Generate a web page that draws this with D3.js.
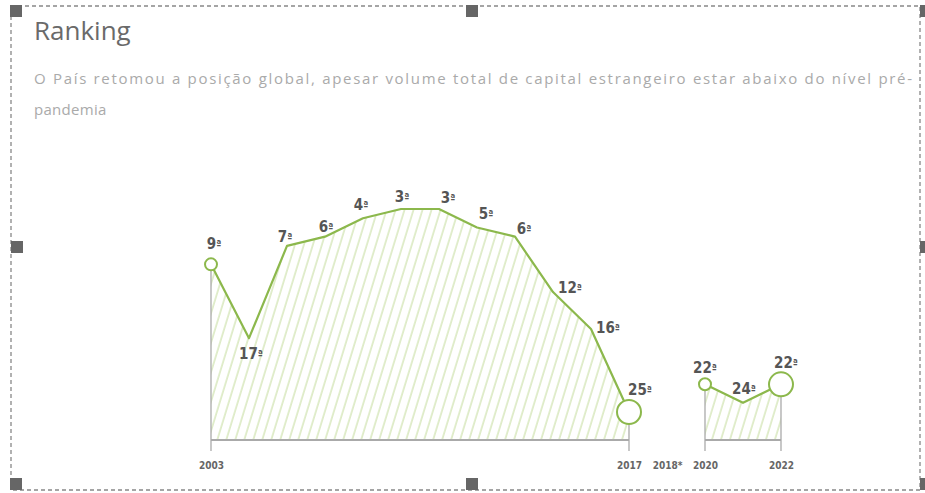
<!DOCTYPE html>
<html>
<head>
<meta charset="utf-8">
<script src="https://cdn.jsdelivr.net/npm/d3@7"></script>
<style>
  body { margin: 0; background: #fff; }
  svg { display: block; }
</style>
</head>
<body>
<script>
// dados
var mainRanks = [9, 17, 7, 6, 4, 3, 3, 5, 6, 12, 16, 25];   // 2003 ... 2017
var recentRanks = [22, 24, 22];                              // 2020 ... 2022
var tickLabels = ["2003", "2017", "2018*", "2020", "2022"];
var tickSlots = [0, 11, 12, 13, 15];
var mainSlots = d3.range(0, 12);
var recentSlots = [13, 14, 15];

var width = 925;
var height = 493;
var svg = d3.select("body").append("svg")
	.attr("width", width)
	.attr("height", height);

var x = d3.scaleLinear().domain([0, 15]).range([211, 781]);
var y = d3.scaleLinear().domain([3, 25]).range([209, 412]);
var baseY = 440;
var green = "#8cb84c";
var labelFont = "'DejaVu Sans Condensed', 'DejaVu Sans', sans-serif";

// hachura
var defs = svg.append("defs");
defs.append("pattern")
	.attr("id", "hatch")
	.attr("patternUnits", "userSpaceOnUse")
	.attr("width", 8.6)
	.attr("height", 10)
	.attr("patternTransform", "rotate(17)")
	.append("line")
	.attr("x1", 1).attr("y1", 0)
	.attr("x2", 1).attr("y2", 10)
	.attr("stroke", "#c9dfa4")
	.attr("stroke-width", 1.1);

// moldura de seleção
svg.append("rect")
	.attr("x", 11).attr("y", 6)
	.attr("width", 909).attr("height", 484)
	.attr("fill", "none")
	.attr("stroke", "#888")
	.attr("stroke-width", 1.3)
	.attr("stroke-dasharray", "4,3");

var handles = [[10, 5], [466, 5], [920, 5], [11, 241], [920, 241], [10, 478], [466, 478], [920, 478]];
svg.selectAll(".handle").data(handles).enter().append("rect")
	.attr("class", "handle")
	.attr("x", d => d[0]).attr("y", d => d[1])
	.attr("width", 12).attr("height", 12)
	.attr("fill", "#666");

// títulos
svg.append("text")
	.attr("x", 34).attr("y", 40)
	.attr("font-family", "'Open Sans', sans-serif")
	.attr("font-size", 26)
	.attr("fill", "#6a6a6a")
	.text("Ranking");

svg.append("text")
	.attr("x", 34).attr("y", 84)
	.attr("font-family", "'Open Sans', sans-serif")
	.attr("font-size", 15)
	.attr("fill", "#aaa")
	.attr("textLength", 878)
	.attr("lengthAdjust", "spacing")
	.text("O País retomou a posição global, apesar volume total de capital estrangeiro estar abaixo do nível pré-");

svg.append("text")
	.attr("x", 34).attr("y", 115)
	.attr("font-family", "'Open Sans', sans-serif")
	.attr("font-size", 15)
	.attr("fill", "#aaa")
	.attr("letter-spacing", 0.3)
	.text("pandemia");

// cada série é desenhada como um bloco
var series = [
	{ranks: mainRanks, slots: mainSlots},
	{ranks: recentRanks, slots: recentSlots}
];

// deslocamentos dos rótulos (dx, dy) em relação ao ponto
var labelOffsets = [
	[[3, -15], [2, 21], [-2, -4], [1, -5], [-2, -8], [1, -7], [9, -6], [9, -8], [9, -3], [17, 1], [17, 4], [11, -17]],
	[[0, -11], [1, -9], [5, -16]]
];

series.forEach(function(s, si) {
	var pts = s.ranks.map((r, i) => ({slot: s.slots[i], rank: r}));
	var first = pts[0], last = pts[pts.length - 1];
	var g = svg.append("g");

	var area = d3.area()
		.x(d => x(d.slot))
		.y0(baseY)
		.y1(d => y(d.rank));
	g.append("path")
		.datum(pts)
		.attr("d", area)
		.attr("fill", "url(#hatch)");

	// linhas cinzas
	g.append("line")
		.attr("x1", x(first.slot)).attr("x2", x(last.slot))
		.attr("y1", baseY).attr("y2", baseY)
		.attr("stroke", "#aaa").attr("stroke-width", 2);
	g.append("line")
		.attr("x1", x(first.slot)).attr("x2", x(first.slot))
		.attr("y1", y(first.rank) + 6).attr("y2", baseY + 11)
		.attr("stroke", "#aaa").attr("stroke-width", 1.3);
	g.append("line")
		.attr("x1", x(last.slot)).attr("x2", x(last.slot))
		.attr("y1", y(last.rank) + 12).attr("y2", baseY + 11)
		.attr("stroke", "#aaa").attr("stroke-width", 1.3);

	var line = d3.line().x(d => x(d.slot)).y(d => y(d.rank));
	g.append("path")
		.datum(pts)
		.attr("d", line)
		.attr("fill", "none")
		.attr("stroke", green)
		.attr("stroke-width", 2.2)
		.attr("stroke-linejoin", "round");

	// círculos no início e no fim
	[[first, 6], [last, 12]].forEach(function(c) {
		g.append("circle")
			.attr("cx", x(c[0].slot)).attr("cy", y(c[0].rank))
			.attr("r", c[1])
			.attr("fill", "#fff")
			.attr("stroke", green)
			.attr("stroke-width", 2);
	});

	var labels = g.selectAll(".lbl").data(pts).enter().append("text")
		.attr("class", "lbl")
		.attr("x", (d, i) => x(d.slot) + labelOffsets[si][i][0])
		.attr("y", (d, i) => y(d.rank) + labelOffsets[si][i][1])
		.attr("text-anchor", "middle")
		.attr("font-family", labelFont)
		.attr("font-stretch", "condensed")
		.attr("font-weight", "bold")
		.attr("font-size", 15)
		.attr("fill", "#555");
	labels.append("tspan").text(d => d.rank);
	labels.append("tspan").attr("font-size", 10).attr("dy", -1).text("ª");
});

// eixo x
var xAxis = d3.axisBottom(x)
	.tickValues(tickSlots)
	.tickFormat((d, i) => tickLabels[i])
	.tickSize(0)
	.tickPadding(0);
var axisG = svg.append("g")
	.attr("transform", "translate(0," + 469 + ")")
	.call(xAxis);
axisG.select(".domain").remove();
axisG.selectAll("text")
	.attr("dy", 0)
	.attr("font-family", labelFont)
	.attr("font-stretch", "condensed")
	.attr("font-weight", "bold")
	.attr("font-size", 10)
	.attr("fill", "#666");
</script>
</body>
</html>
